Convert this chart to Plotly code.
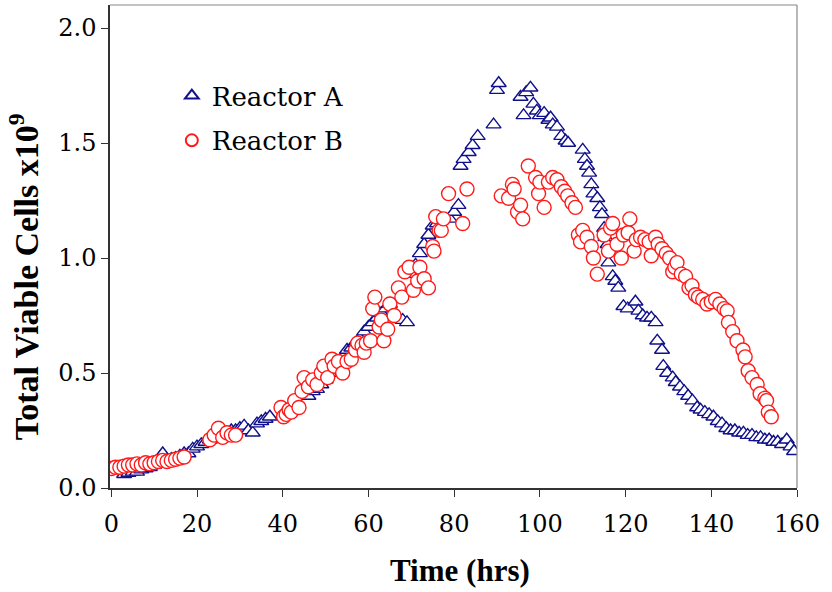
import plotly.graph_objects as go

# Reactor A (triangles)
a_time = [3, 4, 5, 6, 7, 8, 9, 10, 11, 12, 13, 14, 15, 16, 17, 18, 19, 20, 21, 22,
          23, 24, 25, 26, 27, 28, 29, 30, 31, 32, 33, 34, 35, 36, 37,
          45, 46, 47, 48, 49, 50, 51, 52, 53, 54, 55, 56, 57, 58, 59, 60, 61, 62, 63, 64, 65,
          66, 67, 68, 69, 70, 71, 72, 73, 74, 75, 76, 77, 79, 80, 81,
          81.5, 82.2, 83.4, 84.3, 85.5, 89.2, 90, 90.4,
          95.5, 96.2, 96.8, 97.8, 98.5, 99.3, 100, 101, 102, 102.5, 103, 104, 105, 106, 106.6,
          110, 110.5, 111, 111.5, 112, 112.5, 113.4, 114, 114.5, 115, 115.3, 115.8, 116, 117,
          117.6, 118.3, 119.5, 120.5, 122.3, 123, 124, 125, 126, 127, 127.4, 128.5, 128.8,
          129.7, 131, 131.7, 132.7, 133.7, 134.6, 135.6, 136.7, 137.5, 138.5, 139.5, 140.5,
          141.5, 142.5, 143.5, 144.5, 145.5, 146.5, 147.5, 148.5, 149.5, 150.5, 151.5, 152.5,
          153.5, 154.5, 155.5, 156.5, 157.6, 158.5, 159.3]
a_cells = [0.06, 0.065, 0.07, 0.07, 0.08, 0.085, 0.09, 0.10, 0.11, 0.15, 0.12, 0.125, 0.13, 0.14, 0.15, 0.15, 0.17, 0.18, 0.19, 0.20,
           0.21, 0.22, 0.22, 0.23, 0.24, 0.25, 0.25, 0.26, 0.27, 0.25, 0.24, 0.28, 0.29, 0.30, 0.31,
           0.41, 0.40, 0.42, 0.43, 0.45, 0.47, 0.50, 0.52, 0.55, 0.57, 0.60, 0.61, 0.63, 0.65, 0.68, 0.70, 0.72, 0.74, 0.76, 0.78, 0.80,
           0.76, 0.74, 0.73, 0.72, 0.93, 0.97, 1.02, 1.06, 1.10, 1.14, 1.15, 1.17, 1.17, 1.20, 1.23,
           1.40, 1.43, 1.46, 1.49, 1.53, 1.58, 1.73, 1.76,
           1.70, 1.62, 1.72, 1.74, 1.67, 1.64, 1.62, 1.63, 1.60, 1.61, 1.58, 1.57, 1.53, 1.51, 1.50,
           1.47, 1.43, 1.40, 1.37, 1.32, 1.28, 1.26, 1.22, 1.19, 1.13, 1.09, 1.06, 0.98, 0.92,
           0.90, 0.87, 0.79, 0.78, 0.81, 0.77, 0.75, 0.74, 0.74, 0.72, 0.64, 0.60, 0.53,
           0.50, 0.48, 0.46, 0.44, 0.42, 0.40, 0.38, 0.35, 0.34, 0.33, 0.32, 0.31,
           0.29, 0.28, 0.26, 0.25, 0.25, 0.24, 0.24, 0.23, 0.23, 0.22, 0.22, 0.21,
           0.21, 0.20, 0.20, 0.19, 0.21, 0.18, 0.16]

# Reactor B (circles)
b_time = [0, 1, 2, 3, 4, 5, 6, 7, 8, 9, 10, 11, 12, 13, 14, 15, 16, 17,
          23, 24, 25, 26, 27, 28, 29,
          39.6, 40.2, 40.8, 41.5, 42, 42.8, 43.8, 44.5, 45, 46, 47, 48, 49, 49.6, 50.5, 51.5,
          52, 53, 54, 55, 56, 57, 57.5, 58.5, 59, 59.5, 60.5, 61, 61.5, 62.5, 63, 63.6, 64.5,
          65, 66, 67, 67.8, 68.5, 69.5, 70.5, 71.5, 72, 73, 74, 75, 75.3, 75.7, 76.5, 77, 77.5,
          78.7, 82, 83,
          91, 92.7, 93.6, 94, 94.8, 95.5, 96, 97.3, 99, 99.7, 100, 101, 102, 103, 104, 105,
          105.8, 106.5, 107.5, 108.3, 109, 109.5, 110, 111, 112, 112.5, 113.4, 115, 116, 116.5,
          117, 118, 119, 119.5, 120.6, 121, 122, 122.5, 123.5, 124.5, 125.5, 126, 127, 127.6,
          128.5, 129.5, 130.3, 131, 131.5, 132, 133, 134, 134.8, 135.5, 136.3, 137, 138, 139,
          140, 141, 142, 143, 143.7, 144, 145, 146, 147.4, 147.9, 148.6, 149.5, 150.7, 151.4,
          152.5, 152.9, 153.3, 154]
b_cells = [0.085, 0.09, 0.09, 0.095, 0.10, 0.10, 0.105, 0.10, 0.11, 0.105, 0.11, 0.115, 0.12, 0.115, 0.12, 0.125, 0.13, 0.135,
           0.21, 0.23, 0.26, 0.22, 0.24, 0.23, 0.23,
           0.35, 0.31, 0.32, 0.34, 0.33, 0.38, 0.35, 0.42, 0.48, 0.44, 0.47, 0.45, 0.50, 0.53, 0.48, 0.56,
           0.53, 0.55, 0.50, 0.55, 0.56, 0.60, 0.63, 0.62, 0.59, 0.63, 0.64, 0.78, 0.83, 0.70, 0.73, 0.64, 0.69,
           0.80, 0.75, 0.87, 0.83, 0.94, 0.96, 0.86, 0.90, 0.96, 0.91, 0.87, 1.05, 1.03, 1.18, 1.12, 1.12, 1.17,
           1.28, 1.15, 1.30,
           1.27, 1.26, 1.32, 1.30, 1.20, 1.23, 1.17, 1.40, 1.35, 1.28, 1.33, 1.22, 1.33, 1.35, 1.34, 1.31,
           1.29, 1.27, 1.24, 1.22, 1.10, 1.07, 1.12, 1.09, 1.05, 1.00, 0.93, 1.10, 1.03, 1.13,
           1.15, 1.06, 1.00, 1.10, 1.11, 1.17, 1.03, 1.08, 1.09, 1.08, 1.07, 1.01, 1.09, 1.06,
           1.04, 1.02, 1.00, 0.94, 0.96, 0.98, 0.93, 0.92, 0.87, 0.88, 0.84, 0.83, 0.82, 0.80,
           0.81, 0.82, 0.80, 0.78, 0.77, 0.72, 0.68, 0.64, 0.60, 0.57, 0.51, 0.48, 0.45, 0.41,
           0.39, 0.38, 0.33, 0.31]

x_ticks = [0, 20, 40, 60, 80, 100, 120, 140, 160]
y_ticks = [0.0, 0.5, 1.0, 1.5, 2.0]
y_tick_labels = ["0.0", "0.5", "1.0", "1.5", "2.0"]
x_title = "Time (hrs)"
y_title = "Total Viable Cells x10<sup>9</sup>"

FONT = "Liberation Serif"
SERIF = "DejaVu Serif"

fig = go.Figure()
fig.add_trace(go.Scatter(
    x=a_time, y=a_cells, mode="markers", name="Reactor A", legendgroup="a",
    marker=dict(symbol="triangle-up", size=13, color="white",
                line=dict(color="#10108a", width=1.4)),
))
fig.add_trace(go.Scatter(
    x=b_time, y=b_cells, mode="markers", name="Reactor B", legendgroup="b",
    marker=dict(symbol="circle", size=14, color="white",
                line=dict(color="#ff1a1a", width=1.4)),
))

fig.update_layout(
    width=832, height=592,
    margin=dict(l=110, r=35, t=5, b=104),
    paper_bgcolor="white", plot_bgcolor="white",
    font=dict(family=SERIF, size=24, color="black"),
    showlegend=True,
    legend=dict(x=0.09, y=0.861, xanchor="left", yanchor="top",
                bgcolor="rgba(0,0,0,0)", font=dict(family=SERIF, size=26, color="black"),
                traceorder="grouped", tracegroupgap=8, itemsizing="constant"),
    xaxis=dict(range=[-0.3, 160], tickvals=x_ticks, ticks="outside", ticklen=7,
               tickcolor="#333", showgrid=False, zeroline=False,
               showline=True, linecolor="#333", linewidth=1.5,
               ticklabelstandoff=6,
               tickfont=dict(family=SERIF, size=24, color="black")),
    yaxis=dict(range=[0, 2.1], tickvals=y_ticks, ticktext=y_tick_labels, ticks="outside",
               ticklen=7, tickcolor="#333", showgrid=False, zeroline=False,
               showline=True, linecolor="#333", linewidth=1.5,
               tickfont=dict(family=SERIF, size=24, color="black")),
    annotations=[
        dict(text="<b>" + x_title + "</b>", xref="paper", yref="paper",
             x=0.509, y=-0.17, xanchor="center", yanchor="middle", showarrow=False,
             font=dict(family=FONT, size=31, color="black")),
        dict(text="<b>" + y_title + "</b>", xref="paper", yref="paper",
             x=-0.126, y=0.437, xanchor="center", yanchor="middle", showarrow=False,
             textangle=-90, font=dict(family=FONT, size=34, color="black")),
    ],
    shapes=[
        dict(type="line", xref="paper", yref="paper", x0=0, x1=1, y0=1, y1=1,
             line=dict(color="#888", width=1.2)),
        dict(type="line", xref="paper", yref="paper", x0=1, x1=1, y0=0, y1=1,
             line=dict(color="#888", width=1.2)),
    ],
)

fig.write_html("out.html")
